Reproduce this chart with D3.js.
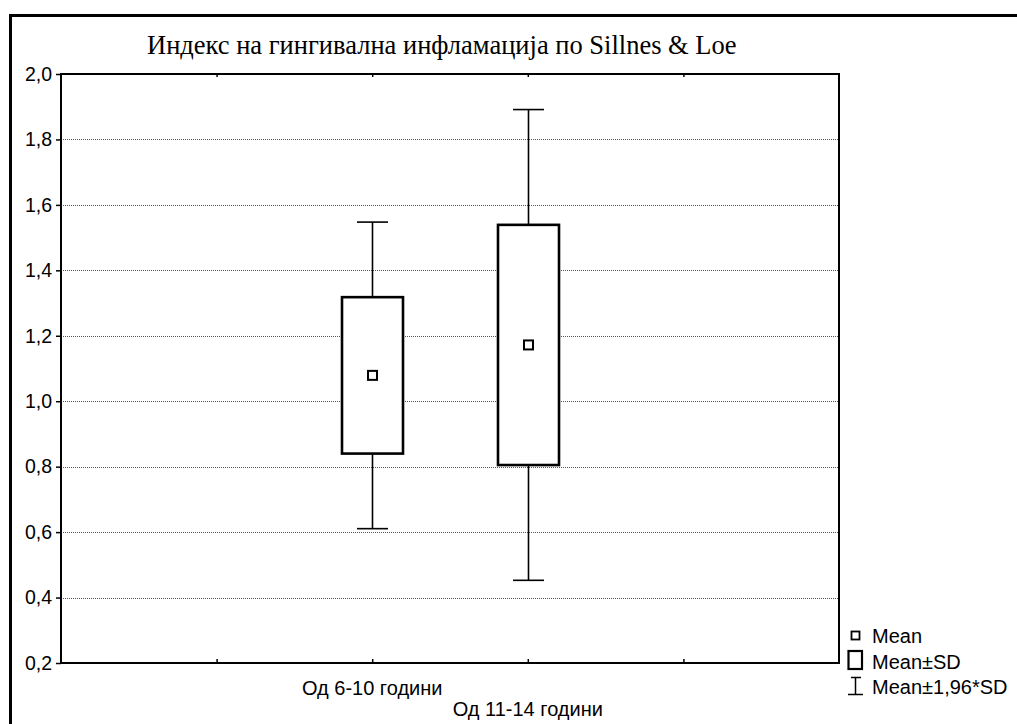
<!DOCTYPE html>
<html>
<head>
<meta charset="utf-8">
<script src="https://cdn.jsdelivr.net/npm/d3@7"></script>
<style>
  html, body { margin: 0; padding: 0; background: #fff; }
  svg { display: block; }
</style>
</head>
<body>
<svg id="chart" width="1017" height="724"></svg>
<script>
// Gingival inflammation index (Silness & Löe) by age group: mean, ±SD box, ±1.96*SD whiskers
const title = "Индекс на гингивална инфламација по Sillnes & Loe";
const groups = ["Од 6-10 години", "Од 11-14 години"];
const groupSlots = [2, 3];          // category positions on the x axis (slots 0..5)
const means = [1.079, 1.172];
const sds = [0.239, 0.367];
const ciFactor = 1.96;
const yTicks = [0.2, 0.4, 0.6, 0.8, 1.0, 1.2, 1.4, 1.6, 1.8, 2.0];
const yTickLabels = ["0,2", "0,4", "0,6", "0,8", "1,0", "1,2", "1,4", "1,6", "1,8", "2,0"];
const xTickSlots = [1, 2, 3, 4];
const legendItems = ["Mean", "Mean±SD", "Mean±1,96*SD"];

const svg = d3.select("#chart");
const plot = { left: 61, right: 839, top: 74, bottom: 663 };

const x = d3.scaleLinear().domain([0, 5]).range([plot.left, plot.right]);
const y = d3.scaleLinear().domain([0.2, 2.0]).range([plot.bottom, plot.top]);

const sans = "'Liberation Sans', Arial, sans-serif";
const serif = "'Liberation Serif', 'Times New Roman', serif";

// outer frame (left and top edges)
svg.append("path")
  .attr("d", "M10.5,724 V15.5 H1017")
  .attr("fill", "none").attr("stroke", "#000").attr("stroke-width", 3);

// title
svg.append("text")
  .attr("x", 147).attr("y", 54)
  .attr("font-family", serif).attr("font-size", 26.5)
  .text(title);

// horizontal dotted grid
svg.append("g")
  .selectAll("line")
  .data(yTicks.filter(t => t > 0.2 && t < 2.0))
  .join("line")
  .attr("x1", plot.left).attr("x2", plot.right)
  .attr("y1", d => Math.round(y(d)) + 0.5).attr("y2", d => Math.round(y(d)) + 0.5)
  .attr("stroke", "#555").attr("stroke-width", 1).attr("stroke-dasharray", "1,1");

// left axis with outward ticks
const yAxis = d3.axisLeft(y)
  .tickValues(yTicks)
  .tickFormat((d, i) => yTickLabels[i])
  .tickSize(5).tickPadding(4);
const gy = svg.append("g").attr("transform", `translate(${plot.left},0)`).call(yAxis);
gy.select(".domain").remove();
gy.selectAll(".tick line").attr("stroke", "#000").attr("stroke-width", 1.5);
gy.selectAll(".tick text").attr("font-family", sans).attr("font-size", 19.5).attr("fill", "#000");

// bottom axis: inward ticks, category labels staggered
const xBottom = d3.axisBottom(x).tickValues(xTickSlots).tickSize(-4).tickFormat("");
const gxb = svg.append("g").attr("transform", `translate(0,${plot.bottom})`).call(xBottom);
gxb.select(".domain").remove();
gxb.selectAll(".tick line").attr("stroke", "#000").attr("stroke-width", 1.5);

const xTop = d3.axisTop(x).tickValues(xTickSlots).tickSize(-3).tickFormat("");
const gxt = svg.append("g").attr("transform", `translate(0,${plot.top})`).call(xTop);
gxt.select(".domain").remove();
gxt.selectAll(".tick line").attr("stroke", "#000").attr("stroke-width", 1.5);

svg.append("g")
  .selectAll("text")
  .data(groups)
  .join("text")
  .attr("x", (d, i) => x(groupSlots[i]))
  .attr("y", (d, i) => 695 + i * 21)
  .attr("text-anchor", "middle")
  .attr("font-family", sans).attr("font-size", 20)
  .text(d => d);

// plot frame
svg.append("rect")
  .attr("x", plot.left).attr("y", plot.top)
  .attr("width", plot.right - plot.left).attr("height", plot.bottom - plot.top)
  .attr("fill", "none").attr("stroke", "#000").attr("stroke-width", 2);

// whiskers: mean ± 1.96*SD, box: mean ± SD, marker: mean
const boxW = 61, capW = 31;
const g = svg.append("g");
groups.forEach((name, i) => {
  const cx = Math.round(x(groupSlots[i])) + 0.5;
  const m = means[i], s = sds[i];
  const hi = m + ciFactor * s, lo = m - ciFactor * s;
  g.append("line").attr("x1", cx).attr("x2", cx)
    .attr("y1", y(hi)).attr("y2", y(lo))
    .attr("stroke", "#000").attr("stroke-width", 1.6);
  [hi, lo].forEach(v => {
    g.append("line").attr("x1", cx - capW / 2).attr("x2", cx + capW / 2)
      .attr("y1", y(v)).attr("y2", y(v))
      .attr("stroke", "#000").attr("stroke-width", 1.6);
  });
  g.append("rect")
    .attr("x", cx - boxW / 2).attr("y", y(m + s))
    .attr("width", boxW).attr("height", y(m - s) - y(m + s))
    .attr("fill", "#fff").attr("stroke", "#000").attr("stroke-width", 2.6);
  g.append("rect")
    .attr("x", cx - 4.5).attr("y", y(m) - 4.5)
    .attr("width", 9).attr("height", 9)
    .attr("fill", "#fff").attr("stroke", "#000").attr("stroke-width", 2);
});

// legend
const lg = svg.append("g");
lg.append("rect").attr("x", 851.5).attr("y", 631.5).attr("width", 8).attr("height", 8)
  .attr("fill", "#fff").attr("stroke", "#000").attr("stroke-width", 1.8);
lg.append("rect").attr("x", 848.5).attr("y", 651).attr("width", 13.5).attr("height", 18)
  .attr("fill", "#fff").attr("stroke", "#000").attr("stroke-width", 2.2);
lg.append("line").attr("x1", 855.5).attr("x2", 855.5).attr("y1", 677).attr("y2", 694)
  .attr("stroke", "#000").attr("stroke-width", 1.5);
lg.append("line").attr("x1", 851).attr("x2", 861).attr("y1", 677.5).attr("y2", 677.5)
  .attr("stroke", "#000").attr("stroke-width", 1.5);
lg.append("line").attr("x1", 848).attr("x2", 863).attr("y1", 694.5).attr("y2", 694.5)
  .attr("stroke", "#000").attr("stroke-width", 1.5);
lg.selectAll("text")
  .data(legendItems)
  .join("text")
  .attr("x", 872)
  .attr("y", (d, i) => 643 + i * 25.5)
  .attr("font-family", sans).attr("font-size", 20)
  .text(d => d);
</script>
</body>
</html>
